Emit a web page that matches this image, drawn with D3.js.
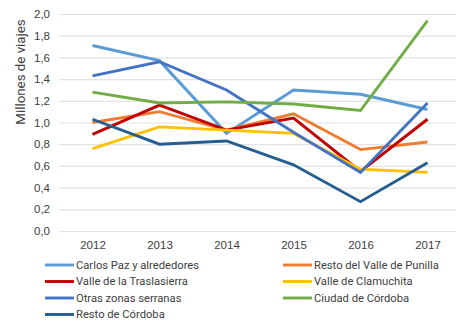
<!DOCTYPE html>
<html>
<head>
<meta charset="utf-8">
<script src="https://cdn.jsdelivr.net/npm/d3@7"></script>
<style>
  html, body { margin: 0; padding: 0; background: #fff; }
  svg { display: block; font-family: Roboto, "Noto Sans", sans-serif; }
</style>
</head>
<body>
<svg id="chart" width="456" height="324"></svg>
<script>
// Years on the horizontal axis
const years = ["2012", "2013", "2014", "2015", "2016", "2017"];

// Trips per zone, millions
const carlosPaz     = [1.71, 1.57, 0.90, 1.30, 1.26, 1.12];
const restoPunilla  = [1.00, 1.10, 0.93, 1.08, 0.75, 0.82];
const traslasierra  = [0.89, 1.16, 0.93, 1.04, 0.55, 1.03];
const calamuchita   = [0.76, 0.96, 0.93, 0.90, 0.57, 0.54];
const otrasSerranas = [1.43, 1.56, 1.30, 0.91, 0.54, 1.18];
const ciudadCordoba = [1.28, 1.18, 1.19, 1.17, 1.11, 1.94];
const restoCordoba  = [1.03, 0.80, 0.83, 0.61, 0.27, 0.63];

const yTicks = [0, 0.2, 0.4, 0.6, 0.8, 1.0, 1.2, 1.4, 1.6, 1.8, 2.0];

const series = [
  { name: "Carlos Paz y alrededores",   values: carlosPaz,     color: "#5B9BD5" },
  { name: "Resto del Valle de Punilla", values: restoPunilla,  color: "#ED7D31" },
  { name: "Valle de la Traslasierra",   values: traslasierra,  color: "#C00000" },
  { name: "Valle de Clamuchita",        values: calamuchita,   color: "#FFC000" },
  { name: "Otras zonas serranas",       values: otrasSerranas, color: "#4472C4" },
  { name: "Ciudad de Córdoba",          values: ciudadCordoba, color: "#70AD47" },
  { name: "Resto de Córdoba",           values: restoCordoba,  color: "#255E91" }
];

const svg = d3.select("#chart");
const plotLeft = 59, plotRight = 461, plotTop = 14, plotBottom = 231;

const x = d3.scalePoint().domain(years).range([plotLeft, plotRight]).padding(0.5);
const y = d3.scaleLinear().domain([0, 2]).range([plotBottom, plotTop]);

// Horizontal gridlines with tick labels
const yAxis = d3.axisLeft(y)
  .tickValues(yTicks)
  .tickSize(-(plotRight - plotLeft))
  .tickPadding(9)
  .tickFormat(d => d3.format(".1f")(d).replace(".", ","));
const gy = svg.append("g").attr("transform", `translate(${plotLeft},0)`).call(yAxis);
gy.select(".domain").remove();
gy.selectAll(".tick line").attr("stroke", "#e3e3e3").attr("stroke-width", 1.2);
gy.selectAll(".tick text").attr("fill", "#404040").attr("font-size", 11.5).attr("x", -9);

// Year labels
const xAxis = d3.axisBottom(x).tickSize(0).tickPadding(10);
const gx = svg.append("g").attr("transform", `translate(0,${plotBottom})`).call(xAxis);
gx.select(".domain").remove();
gx.selectAll(".tick text").attr("fill", "#404040").attr("font-size", 11.5);

// Axis title
svg.append("text")
  .attr("transform", "translate(20,72) rotate(-90)")
  .attr("text-anchor", "middle")
  .attr("dy", "0.35em")
  .attr("fill", "#404040")
  .attr("font-size", 13.3)
  .text("Millones de viajes");

// Series lines
const line = d3.line()
  .x((d, i) => x(years[i]))
  .y(d => y(d));

svg.append("g").selectAll("path")
  .data(series)
  .join("path")
  .attr("d", d => line(d.values))
  .attr("fill", "none")
  .attr("stroke", d => d.color)
  .attr("stroke-width", 2.9)
  .attr("stroke-linejoin", "miter");

// Legend in two columns
const legend = svg.append("g");
const colX = [45, 283];
const rowY0 = 265, rowH = 16.5;
series.forEach((s, i) => {
  const cx = colX[i % 2];
  const cy = rowY0 + Math.floor(i / 2) * rowH;
  const g = legend.append("g").attr("transform", `translate(${cx},${cy})`);
  g.append("line")
    .attr("x1", 0).attr("x2", 29).attr("y1", 0).attr("y2", 0)
    .attr("stroke", s.color).attr("stroke-width", 2.9);
  g.append("text")
    .attr("x", 31).attr("y", 0).attr("dy", "0.35em")
    .attr("fill", "#404040").attr("font-size", 11.2)
    .text(s.name);
});
</script>
</body>
</html>
